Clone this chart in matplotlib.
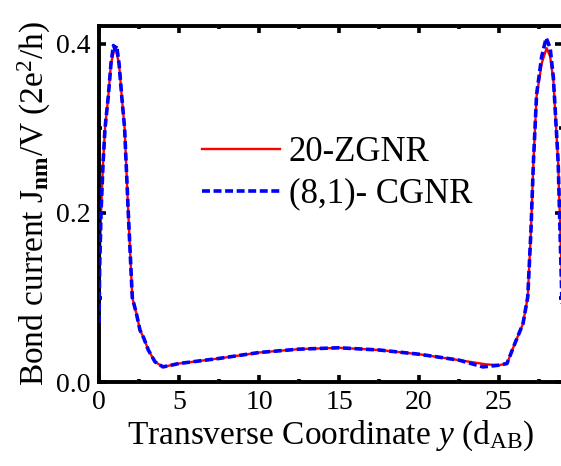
import matplotlib
matplotlib.use("Agg")
import matplotlib.pyplot as plt
from matplotlib.ticker import MultipleLocator, FormatStrFormatter

# Bond current across the ribbon width (units of 2e^2/h per volt)
y_zgnr = [0.0, 0.04, 0.125, 0.25, 0.375, 0.58, 0.75, 1.0, 1.25, 1.42, 1.6,
          1.83, 2.08, 2.35, 2.56, 2.8, 3.08, 3.5, 4.0, 5.0, 7.5, 10.0, 12.5,
          15.0, 17.5, 20.0, 22.5, 24.2, 25.0, 25.5, 26.0, 26.5, 26.8, 27.0,
          27.15, 27.35, 27.67, 27.98, 28.2, 28.4, 28.7, 29.0]
j_zgnr = [0.082, 0.14, 0.2, 0.258, 0.3, 0.338, 0.377, 0.397, 0.377, 0.338,
          0.3, 0.2, 0.1, 0.08, 0.0615, 0.052, 0.038, 0.024, 0.018, 0.022,
          0.028, 0.035, 0.039, 0.0406, 0.038, 0.033, 0.026, 0.021, 0.020,
          0.022, 0.046, 0.069, 0.101, 0.18, 0.259, 0.338, 0.377, 0.395,
          0.385, 0.357, 0.259, 0.08]

y_cgnr = [0.0, 0.04, 0.125, 0.25, 0.375, 0.58, 0.75, 0.9, 1.0, 1.1, 1.25,
          1.42, 1.6, 1.83, 2.08, 2.35, 2.56, 2.8, 3.08, 3.5, 4.0, 5.0, 7.5,
          10.0, 12.5, 15.0, 17.5, 20.0, 22.5, 24.0, 25.0, 25.5, 26.0, 26.5,
          26.8, 27.0, 27.15, 27.35, 27.67, 27.95, 28.2, 28.4, 28.7, 28.95]
j_cgnr = [0.07, 0.135, 0.2, 0.258, 0.3, 0.338, 0.377, 0.398, 0.394, 0.398,
          0.377, 0.338, 0.3, 0.2, 0.1, 0.08, 0.0615, 0.052, 0.038, 0.024,
          0.018, 0.022, 0.028, 0.035, 0.039, 0.0406, 0.038, 0.033, 0.026,
          0.018, 0.020, 0.022, 0.046, 0.069, 0.101, 0.18, 0.259, 0.34, 0.385,
          0.407, 0.395, 0.36, 0.26, 0.085]

labels = ["20-ZGNR", "(8,1)- CGNR"]

plt.rcParams["font.family"] = "Liberation Serif"
plt.rcParams["mathtext.fontset"] = "custom"
plt.rcParams["mathtext.rm"] = "Liberation Serif"
plt.rcParams["mathtext.it"] = "Liberation Serif:italic"
plt.rcParams["mathtext.bf"] = "Liberation Serif:bold"

fig = plt.figure(figsize=(5.61, 4.66), dpi=100)
ax = fig.add_axes([0.1765, 0.180, 0.8253, 0.764])

ax.plot(y_zgnr, j_zgnr, color="#ff0000", lw=1.7, label=labels[0], zorder=2)
ax.plot(y_cgnr, j_cgnr, color="#0000ff", lw=2.6, dashes=(2.2, 1.0),
        label=labels[1], zorder=3)

ax.set_xlim(0, 28.94)
ax.set_ylim(0, 0.421)

ax.xaxis.set_major_locator(MultipleLocator(5))
ax.xaxis.set_minor_locator(MultipleLocator(2.5))
ax.yaxis.set_major_locator(MultipleLocator(0.2))
ax.yaxis.set_minor_locator(MultipleLocator(0.1))
ax.yaxis.set_major_formatter(FormatStrFormatter("%.1f"))

for s in ax.spines.values():
    s.set_linewidth(2.8)

ax.tick_params(which="both", direction="in", top=True, right=True,
               labelsize=20, width=2.6, pad=6)
ax.tick_params(which="major", length=5)
ax.tick_params(which="minor", length=2.5)

ax.set_xlabel(r"Transverse Coordinate $\mathit{y}$ (d$_{\mathrm{AB}}$)",
              fontsize=24, labelpad=2)
ax.set_ylabel(r"Bond current J$_{\mathbf{nm}}$/V (2e$^{2}$/h)",
              fontsize=24, labelpad=2)

ax.legend(loc="upper left", bbox_to_anchor=(0.192, 0.730), frameon=False,
          fontsize=25, handlelength=2.25, handletextpad=0.25,
          labelspacing=0.25, borderaxespad=0)

fig.savefig("out.png", dpi=100)
